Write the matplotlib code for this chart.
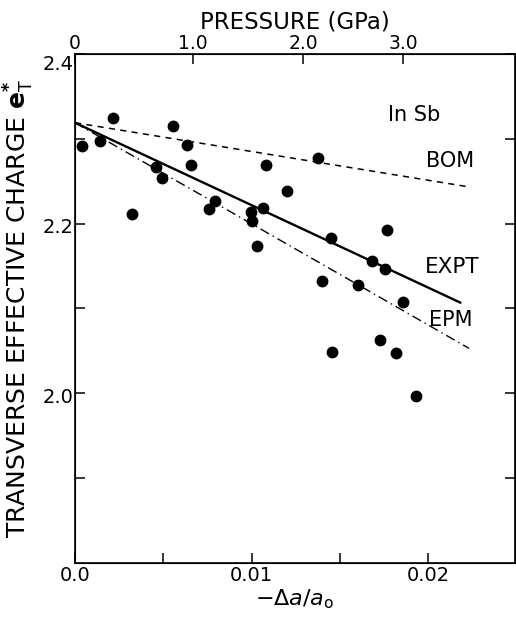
import matplotlib
matplotlib.use("Agg")
import matplotlib.pyplot as plt
import matplotlib.transforms as mtransforms
import numpy as np

# ---- data ----
strain = [0.00038, 0.00141, 0.00217, 0.00324, 0.00456, 0.00492, 0.00556, 0.00633,
          0.00655, 0.00759, 0.00791, 0.00994, 0.01000, 0.01030, 0.01064, 0.01081,
          0.01201, 0.01375, 0.01446, 0.01397, 0.01603, 0.01682, 0.01763, 0.01757,
          0.01859, 0.01725, 0.01456, 0.01815, 0.01930]
charge = [2.291, 2.298, 2.325, 2.211, 2.267, 2.254, 2.315, 2.293,
          2.269, 2.217, 2.227, 2.214, 2.203, 2.174, 2.218, 2.269,
          2.2385, 2.277, 2.183, 2.133, 2.128, 2.156, 2.192, 2.146,
          2.108, 2.063, 2.049, 2.047, 1.997]

bom_x = [0.0, 0.0224]
bom_y = [2.319, 2.243]
expt_x = [0.0, 0.0218]
expt_y = [2.319, 2.107]
epm_x = [0.0, 0.0223]
epm_y = [2.319, 2.053]

xticks = [0.0, 0.005, 0.01, 0.015, 0.02]
xticklabels = ["0.0", "", "0.01", "", "0.02"]
yticks = [1.9, 2.0, 2.1, 2.2, 2.3, 2.4]
yticklabels = ["", "2.0", "", "2.2", "", "2.4"]
p_tick_pos = [0.0, 0.00668, 0.0129, 0.01859]
p_tick_labels = ["0", "1.0", "2.0", "3.0"]

plt.rcParams['font.family'] = ['DejaVu Sans']

fig = plt.figure(figsize=(5.16, 6.21), dpi=100)
ax = fig.add_axes([75/516, 1-563/621, (515-75)/516, (563-54)/621])

ax.plot(strain, charge, 'o', color='black', ms=7.5, mec='black')
ax.plot(bom_x, bom_y, color='black', lw=1.1, dashes=(4, 3.5))
ax.plot(expt_x, expt_y, color='black', lw=1.7)
ax.plot(epm_x, epm_y, color='black', lw=1.0, dashes=(7, 3, 1, 3))

ax.set_xlim(0.0, 0.0249)
ax.set_ylim(1.8, 2.4)
ax.set_xticks(xticks)
ax.set_xticklabels(xticklabels)
ax.set_yticks(yticks)
ax.set_yticklabels(yticklabels)
ax.tick_params(direction='in', length=7, width=1.1, labelsize=14,
               right=True, pad=2)
ax.tick_params(axis='y', pad=1)
for s in ax.spines.values():
    s.set_linewidth(1.2)

# nudge y tick labels slightly downward (top one more), as in the reference
for lbl in ax.get_yticklabels():
    dy = -8 if lbl.get_text() == "2.4" else -2
    lbl.set_transform(lbl.get_transform() +
                      mtransforms.ScaledTranslation(0, dy / 100, fig.dpi_scale_trans))

ax.set_xlabel(r"$-\Delta a/a_{\mathrm{o}}$", fontsize=16, labelpad=2)
ax.set_ylabel(r"TRANSVERSE EFFECTIVE CHARGE $\mathbf{e}^{\mathbf{*}}_{\mathrm{T}}$",
              fontsize=18, labelpad=5)

ax2 = ax.twiny()
ax2.set_xlim(ax.get_xlim())
ax2.set_xticks(p_tick_pos)
ax2.set_xticklabels(p_tick_labels)
ax2.tick_params(direction='in', length=7, width=1.1, labelsize=13.5, pad=1)
ax2.set_xlabel("PRESSURE (GPa)", fontsize=16.5, labelpad=4)

ax.text(0.0192, 2.328, "In Sb", fontsize=15, ha='center', va='center')
ax.text(0.02124, 2.274, "BOM", fontsize=15, ha='center', va='center')
ax.text(0.02136, 2.149, "EXPT", fontsize=15.5, ha='center', va='center')
ax.text(0.02124, 2.087, "EPM", fontsize=15, ha='center', va='center')

fig.savefig("out.png", dpi=100)
